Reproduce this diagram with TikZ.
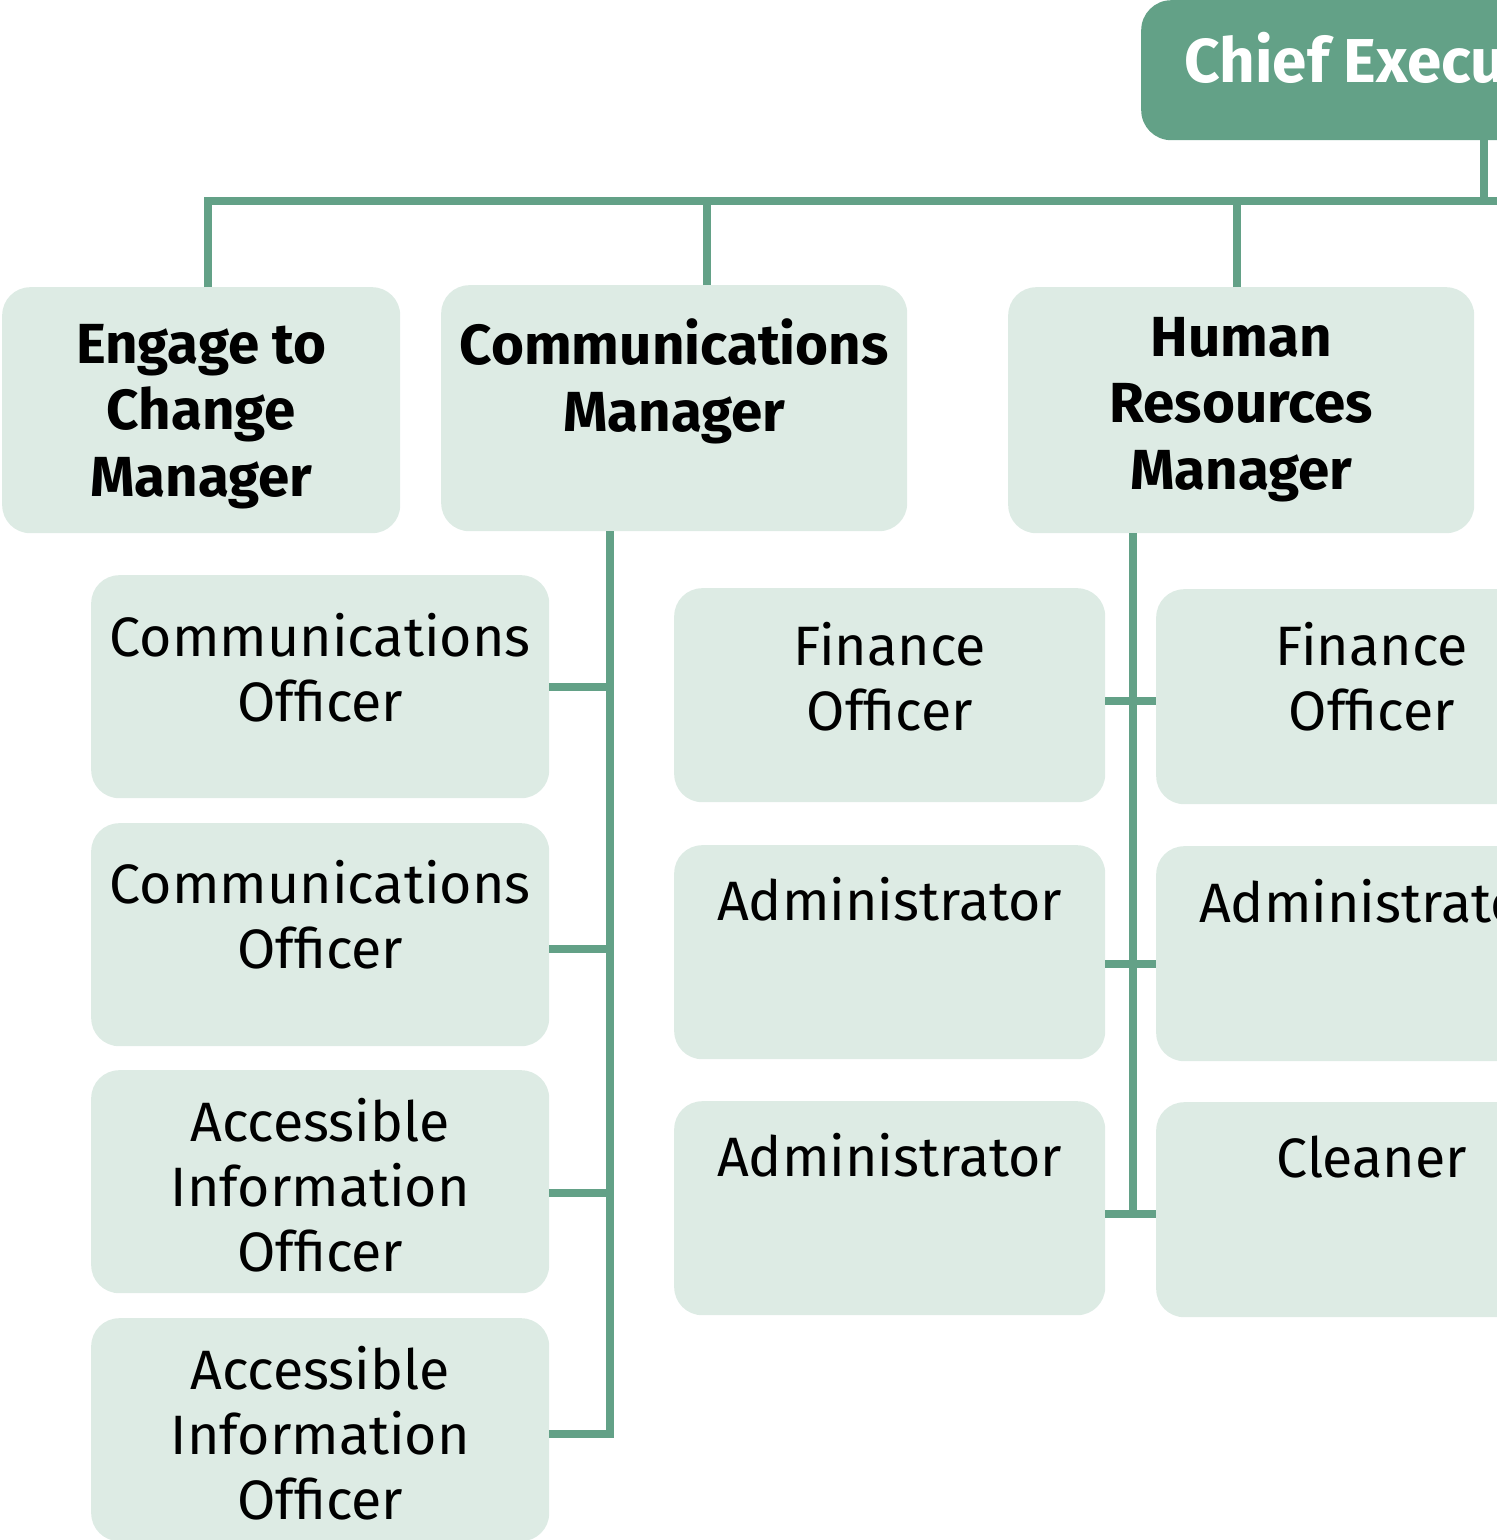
\documentclass[tikz,border=0pt]{standalone}
\usepackage{fontspec}
\setmainfont{Fira Sans}
\usetikzlibrary{positioning}

\definecolor{leadgreen}{HTML}{63A187}
\definecolor{palegreen}{HTML}{DDEBE4}

\tikzset{
  postbox/.style={fill=palegreen, rounded corners=28pt, inner sep=0pt, anchor=north west},
  ceobox/.style={fill=leadgreen, rounded corners=30pt, inner sep=0pt, anchor=north west},
  headtxt/.style={align=center, font=\fontsize{56.5}{66.5}\selectfont\bfseries},
  posttxt/.style={align=center, font=\fontsize{55.5}{65}\selectfont},
  link/.style={draw=leadgreen, line width=8pt}
}

\begin{document}
\begin{tikzpicture}[x=1pt, y=-1pt]
  \useasboundingbox (0,0) rectangle (1497,1540);
  \clip (0,0) rectangle (1497,1540);

  % boxes
  \node[ceobox, minimum width=520pt, minimum height=140pt] (ceo) at (1141,0) {};
  \node[postbox, minimum width=398pt, minimum height=246pt] (engage) at (2,287) {};
  \node[postbox, minimum width=466pt, minimum height=246pt] (comms) at (441,285) {};
  \node[postbox, minimum width=466pt, minimum height=246pt] (hr) at (1008,287) {};

  \node[postbox, minimum width=458pt, minimum height=223pt] (o1) at (91,575) {};
  \node[postbox, minimum width=458pt, minimum height=223pt] (o2) at (91,823) {};
  \node[postbox, minimum width=458pt, minimum height=223pt] (o3) at (91,1070) {};
  \node[postbox, minimum width=458pt, minimum height=223pt] (o4) at (91,1318) {};

  \node[postbox, minimum width=431pt, minimum height=214pt] (f1) at (674,588) {};
  \node[postbox, minimum width=431pt, minimum height=214pt] (a1) at (674,845) {};
  \node[postbox, minimum width=431pt, minimum height=214pt] (a2) at (674,1101) {};

  \node[postbox, minimum width=431pt, minimum height=215pt] (f2) at (1156,589) {};
  \node[postbox, minimum width=431pt, minimum height=215pt] (a3) at (1156,846) {};
  \node[postbox, minimum width=431pt, minimum height=215pt] (cl) at (1156,1102) {};

  % texts
  \node[anchor=west, text=white, font=\fontsize{62}{70}\selectfont\bfseries]
       (t_ceo) at ([xshift=40pt, yshift=12pt]ceo.west) {Chief Executive};
  \node[headtxt] (t_engage) at ([yshift=-6pt]engage) {Engage to\\Change\\Manager};
  \node[headtxt] (t_comms) at ([yshift=27pt]comms) {Communications\\Manager};
  \node[headtxt] (t_hr) at ([yshift=1pt]hr) {Human\\Resources\\Manager};

  \node[posttxt] (t_o1) at ([yshift=19pt]o1) {Communications\\Officer};
  \node[posttxt] (t_o2) at ([yshift=20pt]o2) {Communications\\Officer};
  \node[posttxt] (t_o3) at ([yshift=-3pt]o3) {Accessible\\Information\\Officer};
  \node[posttxt] (t_o4) at ([yshift=-3pt]o4) {Accessible\\Information\\Officer};

  \node[posttxt] (t_f1) at ([yshift=19pt]f1) {Finance\\Officer};
  \node[posttxt] (t_a1) at ([yshift=53pt]a1) {Administrator};
  \node[posttxt] (t_a2) at ([yshift=53pt]a2) {Administrator};
  \node[posttxt] (t_f2) at ([yshift=20pt]f2) {Finance\\Officer};
  \node[posttxt] (t_a3) at ([yshift=53pt]a3) {Administrator};
  \node[posttxt] (t_cl) at ([yshift=53pt]cl) {Cleaner};

  % connectors
  \coordinate (bus) at (1484,201);
  \coordinate (busend) at (1510,201);
  \coordinate (cdrop) at ([xshift=33pt]comms.north);
  \coordinate (ctrunk) at ([xshift=-64pt]comms.south);
  \coordinate (htrunk) at ([xshift=-108pt]hr.south);

  \draw[link] (ceo.south -| bus) -- (bus);
  \draw[link] ([xshift=7pt]engage.north) |- (busend);
  \draw[link] (cdrop) -- (cdrop |- bus);
  \draw[link] ([xshift=-4pt]hr.north) -- ([xshift=-4pt]hr.north |- bus);

  \draw[link] (ctrunk) |- ([yshift=-4pt]o4.east);
  \draw[link] (o1.east) -- (o1.east -| ctrunk);
  \draw[link] ([yshift=-14pt]o2.east) -- ([yshift=-14pt]o2.east -| ctrunk);
  \draw[link] ([yshift=-11pt]o3.east) -- ([yshift=-11pt]o3.east -| ctrunk);

  \draw[link] (htrunk) -- ([yshift=-6pt]a2.east -| htrunk);
  \draw[link] ([yshift=-6pt]f1.east) -- ([yshift=-6pt]f1.east -| f2.west);
  \draw[link] ([yshift=-12pt]a1.east) -- ([yshift=-12pt]a1.east -| a3.west);
  \draw[link] ([yshift=-6pt]a2.east) -- ([yshift=-6pt]a2.east -| cl.west);
\end{tikzpicture}
\end{document}
